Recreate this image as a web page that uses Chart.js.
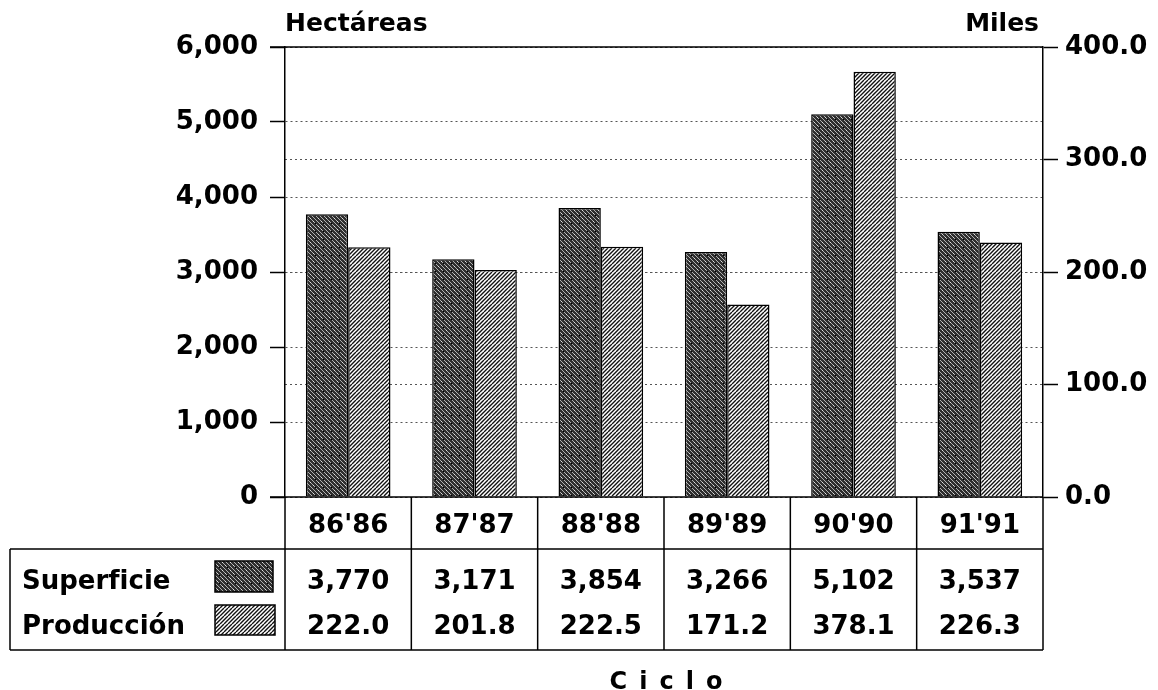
<!DOCTYPE html>
<html lang="es">
<head>
<meta charset="utf-8">
<title>Superficie y Producción por ciclo</title>
<script src="https://cdn.jsdelivr.net/npm/chart.js@4.4.1/dist/chart.umd.min.js"></script>
<style>
  html, body { margin: 0; padding: 0; background: #fff; }
  #wrap { width: 1158px; height: 690px; }
</style>
</head>
<body>
<div id="wrap"><canvas id="cicloChart" width="1158" height="690"></canvas></div>
<script>
// data
const ciclos = ["86'86", "87'87", "88'88", "89'89", "90'90", "91'91"];
const superficie = [3770, 3171, 3854, 3266, 5102, 3537];      // hectáreas
const produccion = [222.0, 201.8, 222.5, 171.2, 378.1, 226.3]; // miles
const seriesNames = ['Superficie', 'Producción'];
const leftTitle = 'Hectáreas';
const rightTitle = 'Miles';
const xTitle = 'Ciclo';

const FONT = "'DejaVu Sans', 'Liberation Sans', sans-serif";

function makePattern(dark) {
    const c = document.createElement('canvas');
    c.width = 8; c.height = 8;
    const g = c.getContext('2d');
    g.fillStyle = dark ? '#2e2e2e' : '#ffffff';
    g.fillRect(0, 0, 8, 8);
    g.strokeStyle = dark ? '#b0b0b0' : '#111111';
    g.lineWidth = dark ? 1 : 1.4;
    g.beginPath();
    for (let k = -8; k <= 16; k += 4) {
        if (dark) { g.moveTo(k, 0); g.lineTo(k + 8, 8); }
        else { g.moveTo(k, 8); g.lineTo(k + 8, 0); }
    }
    g.stroke();
    if (dark) {
        g.fillStyle = '#e0e0e0';
        g.fillRect(1, 5, 1, 1);
        g.fillRect(6, 2, 1, 1);
        g.fillStyle = '#000';
        g.fillRect(3, 7, 1, 1);
    }
    return g.createPattern(c, 'repeat');
}

document.addEventListener('DOMContentLoaded', function() {
    const ctx = document.getElementById('cicloChart');
    const darkFill = makePattern(true);
    const lightFill = makePattern(false);

    const tablePlugin = {
        id: 'tablePlugin',
        afterDraw(chart) {
            const c = chart.ctx;
            const area = chart.chartArea;
            const x = chart.scales.x;
            const left = area.left, right = area.right, bottom = area.bottom;
            const catW = (right - left) / ciclos.length;
            const rowTop = bottom + 52;
            const tableBottom = bottom + 153;
            const boxLeft = 10;

            c.save();
            c.strokeStyle = '#000';
            c.lineWidth = 1.5;
            c.beginPath();
            // frame lines of the plot
            c.moveTo(left - 15, area.top); c.lineTo(right, area.top);
            c.moveTo(left - 15, bottom); c.lineTo(right, bottom);
            // table grid
            for (let i = 0; i <= ciclos.length; i++) {
                const xx = left + i * catW;
                c.moveTo(xx, bottom); c.lineTo(xx, tableBottom);
            }
            c.moveTo(boxLeft, rowTop); c.lineTo(right, rowTop);
            c.moveTo(boxLeft, tableBottom); c.lineTo(right, tableBottom);
            c.moveTo(boxLeft, rowTop); c.lineTo(boxLeft, tableBottom);
            c.stroke();

            c.fillStyle = '#000';
            c.font = 'bold 26px ' + FONT;
            c.textAlign = 'center';
            c.textBaseline = 'middle';
            ciclos.forEach((lab, i) => {
                const cx = x.getPixelForValue(i);
                c.fillText(lab, cx, bottom + 29);
                c.fillText(superficie[i].toLocaleString('en-US'), cx, rowTop + 33);
                c.fillText(produccion[i].toFixed(1), cx, rowTop + 78);
            });

            // legend part of the table
            c.textAlign = 'left';
            c.fillText(seriesNames[0], 22, rowTop + 33);
            c.fillText(seriesNames[1], 22, rowTop + 78);
            c.fillStyle = darkFill;
            c.fillRect(215, rowTop + 12, 58, 31);
            c.strokeRect(215, rowTop + 12, 58, 31);
            c.fillStyle = lightFill;
            c.fillRect(215, rowTop + 56, 60, 30);
            c.strokeRect(215, rowTop + 56, 60, 30);

            // axis titles
            c.fillStyle = '#000';
            c.font = 'bold 25px ' + FONT;
            c.textBaseline = 'alphabetic';
            c.textAlign = 'left';
            c.fillText(leftTitle, left, 31);
            c.textAlign = 'right';
            c.fillText(rightTitle, right - 4, 31);

            // spaced "Ciclo"
            c.textAlign = 'left';
            c.font = 'bold 24px ' + FONT;
            const chars = xTitle.split('');
            const gap = 12;
            let total = 0;
            chars.forEach(ch => { total += c.measureText(ch).width + gap; });
            total -= gap;
            let px = (left + right) / 2 - total / 2 + 2;
            chars.forEach(ch => {
                c.fillText(ch, px, tableBottom + 39);
                px += c.measureText(ch).width + gap;
            });
            c.restore();
        }
    };

    new Chart(ctx, {
        type: 'bar',
        data: {
            labels: ciclos,
            datasets: [{
                label: seriesNames[0],
                data: superficie,
                yAxisID: 'y',
                backgroundColor: darkFill,
                borderColor: '#000',
                borderWidth: 1.5,
                borderSkipped: 'bottom'
            }, {
                label: seriesNames[1],
                data: produccion,
                yAxisID: 'y1',
                backgroundColor: lightFill,
                borderColor: '#000',
                borderWidth: 1.5,
                borderSkipped: 'bottom'
            }]
        },
        options: {
            responsive: false,
            animation: false,
            devicePixelRatio: 1,
            layout: { padding: { top: 47, bottom: 193, left: 0, right: 0 } },
            plugins: {
                legend: { display: false },
                tooltip: { enabled: false }
            },
            datasets: {
                bar: { categoryPercentage: 0.67, barPercentage: 1.0 }
            },
            scales: {
                x: {
                    display: false,
                    offset: true
                },
                y: {
                    position: 'left',
                    min: 0,
                    max: 6000,
                    afterFit(scale) { scale.width = 285; },
                    ticks: {
                        stepSize: 1000,
                        color: '#000',
                        padding: 12,
                        font: { family: FONT, size: 26, weight: 'bold' },
                        callback: v => v.toLocaleString('en-US')
                    },
                    grid: {
                        color: '#555',
                        lineWidth: 1,
                        tickLength: 15,
                        tickColor: '#000',
                        tickWidth: 1.5
                    },
                    border: { display: true, color: '#000', width: 1.5, dash: [2, 3] }
                },
                y1: {
                    position: 'right',
                    min: 0,
                    max: 400,
                    afterFit(scale) { scale.width = 115; },
                    ticks: {
                        stepSize: 100,
                        color: '#000',
                        padding: 7,
                        font: { family: FONT, size: 26, weight: 'bold' },
                        callback: v => v.toFixed(1)
                    },
                    grid: {
                        color: '#555',
                        lineWidth: 1,
                        tickLength: 15,
                        tickColor: '#000',
                        tickWidth: 1.5
                    },
                    border: { display: true, color: '#000', width: 1.5, dash: [2, 3] }
                }
            }
        },
        plugins: [tablePlugin]
    });
});
</script>
</body>
</html>
